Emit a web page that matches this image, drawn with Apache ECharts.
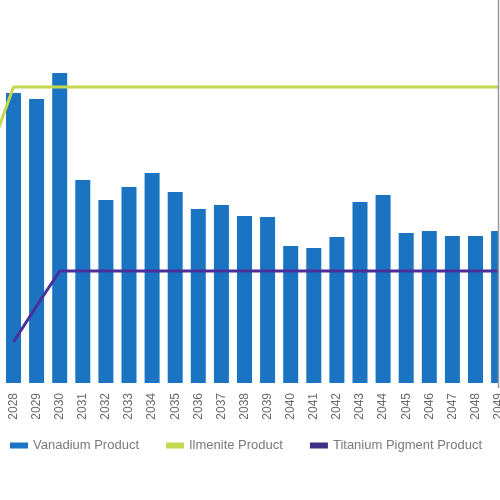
<!DOCTYPE html>
<html>
<head>
<meta charset="utf-8">
<script src="https://cdn.jsdelivr.net/npm/echarts@6/dist/echarts.min.js"></script>
<style>
html,body{margin:0;padding:0;width:500px;height:500px;overflow:hidden;background:#fff;}
#wrap{position:relative;width:500px;height:500px;overflow:hidden;}
#chart{position:absolute;left:-40px;top:0;width:580px;height:500px;}
</style>
</head>
<body>
<div id="wrap"><div id="chart"></div></div>
<script>
// Categories (first one lies just off the left edge of the cropped view)
var years = ['2027','2028','2029','2030','2031','2032','2033','2034','2035','2036','2037','2038',
             '2039','2040','2041','2042','2043','2044','2045','2046','2047','2048','2049'];
var vanadium = [null,290,284,310,203,183,196,210,191,174,178,167,166,137,135,146,181,188,150,152,147,147,152];
var ilmenite = [232,296,296,296,296,296,296,296,296,296,296,296,296,296,296,296,296,296,296,296,296,296,296];
var pigment  = [null,41,77,112,112,112,112,112,112,112,112,112,112,112,112,112,112,112,112,112,112,112,112];
var seriesNames = ['Vanadium Product','Ilmenite Product','Titanium Pigment Product'];

var chart = echarts.init(document.getElementById('chart'), null, {renderer:'canvas'});
var off = 40;
chart.setOption({
  animation:false,
  backgroundColor:'#fff',
  grid:{left:-21.15+off, width:531.3, top:33, height:350},
  legend:{
    left:5+off, top:434, itemWidth:18, itemHeight:6, itemGap:27,
    textStyle:{color:'#7a7a7a', fontSize:13, fontFamily:'Liberation Sans, Arial'},
    data:[
      {name:seriesNames[0], icon:'rect'},
      {name:seriesNames[1], icon:'rect', itemStyle:{color:'#c5d74e'}},
      {name:seriesNames[2], icon:'rect', itemStyle:{color:'#3f2f86'}}
    ]
  },
  xAxis:{
    type:'category', data:years, boundaryGap:true,
    axisLine:{show:false}, axisTick:{show:false},
    axisLabel:{rotate:90, margin:10, fontSize:12, color:'#6a6a6a', interval:0, fontFamily:'Liberation Sans, Arial'}
  },
  yAxis:{type:'value', min:0, max:350, show:false, splitLine:{show:false}},
  series:[
    {name:seriesNames[0], type:'bar', data:vanadium, barWidth:15, itemStyle:{color:'#1a74c2'}},
    {name:seriesNames[1], type:'line', data:ilmenite, symbol:'none', lineStyle:{color:'#c5d74e', width:3}, itemStyle:{color:'#c5d74e'}},
    {name:seriesNames[2], type:'line', data:pigment, symbol:'none', lineStyle:{color:'#4a2f9a', width:3}, itemStyle:{color:'#4a2f9a'}}
  ],
  graphic:[
    {type:'rect', shape:{x:499+off, y:0, width:60, height:388}, style:{fill:'#fff'}, z:100},
    {type:'line', shape:{x1:498.5+off, y1:0, x2:498.5+off, y2:388}, style:{stroke:'#9a9a9a', lineWidth:1.5}, z:101}
  ]
});
</script>
</body>
</html>
